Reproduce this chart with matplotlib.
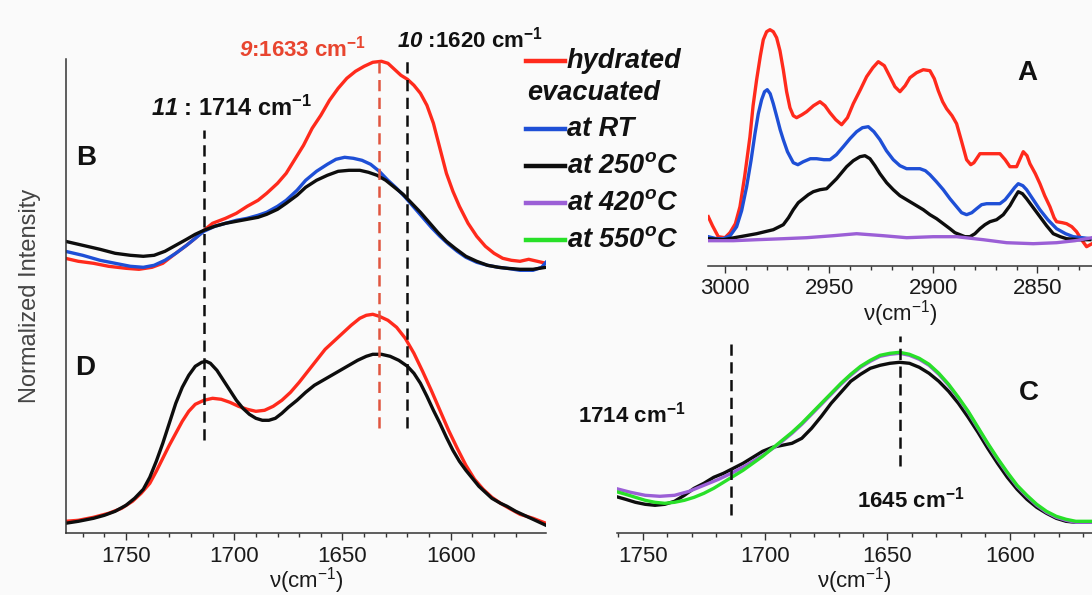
import matplotlib
matplotlib.use("Agg")
import matplotlib.pyplot as plt
from matplotlib.lines import Line2D

plt.rcParams['font.family'] = ['Liberation Sans', 'DejaVu Sans']
plt.rcParams['mathtext.fontset'] = 'custom'
plt.rcParams['mathtext.rm'] = 'Liberation Sans'
plt.rcParams['mathtext.it'] = 'Liberation Sans:italic:bold'
plt.rcParams['mathtext.bf'] = 'Liberation Sans:bold'
plt.rcParams['mathtext.sf'] = 'Liberation Sans:italic:bold'

# ---------------- data ----------------
# Panel B (upper spectra of left panel), wavenumber cm-1 / intensity a.u.
b_red_x = [1778, 1772, 1765, 1758, 1750, 1744, 1738, 1733, 1727, 1722, 1718, 1714, 1710, 1704,
           1699, 1694, 1689, 1685, 1680, 1676, 1672, 1668, 1664, 1660, 1656, 1652, 1648, 1644,
           1640, 1636, 1632, 1629, 1626, 1623, 1620, 1617, 1614, 1611, 1608, 1605, 1602, 1599,
           1596, 1592, 1588, 1584, 1580, 1576, 1572, 1568, 1564, 1560, 1556]
b_red_y = [2.75, 2.72, 2.70, 2.67, 2.65, 2.64, 2.66, 2.70, 2.80, 2.88, 2.95, 3.03, 3.10, 3.15,
           3.20, 3.27, 3.33, 3.40, 3.50, 3.60, 3.74, 3.88, 4.05, 4.18, 4.33, 4.45, 4.55, 4.62,
           4.67, 4.71, 4.72, 4.70, 4.64, 4.58, 4.54, 4.48, 4.40, 4.28, 4.10, 3.85, 3.60, 3.42,
           3.27, 3.10, 2.97, 2.87, 2.80, 2.75, 2.73, 2.72, 2.74, 2.72, 2.70]
b_blue_x = [1778, 1770, 1762, 1755, 1748, 1742, 1737, 1732, 1727, 1722, 1718, 1714, 1709, 1704,
            1699, 1694, 1689, 1685, 1680, 1676, 1671, 1667, 1662, 1657, 1653, 1649, 1645, 1641,
            1637, 1633, 1629, 1625, 1621, 1617, 1613, 1609, 1605, 1601, 1597, 1593, 1588, 1583,
            1578, 1574, 1568, 1562, 1558, 1556]
b_blue_y = [2.82, 2.78, 2.73, 2.70, 2.67, 2.66, 2.68, 2.73, 2.80, 2.88, 2.95, 3.02, 3.07, 3.10,
            3.13, 3.15, 3.18, 3.21, 3.27, 3.33, 3.43, 3.53, 3.62, 3.69, 3.74, 3.76, 3.75, 3.73,
            3.69, 3.62, 3.53, 3.45, 3.36, 3.26, 3.16, 3.06, 2.97, 2.89, 2.82, 2.76, 2.71, 2.68,
            2.66, 2.65, 2.63, 2.63, 2.66, 2.71]
b_black_x = [1778, 1770, 1762, 1755, 1748, 1742, 1737, 1732, 1727, 1722, 1718, 1714, 1709, 1704,
             1699, 1694, 1689, 1685, 1680, 1676, 1671, 1667, 1662, 1657, 1652, 1647, 1642, 1638,
             1634, 1630, 1626, 1622, 1618, 1614, 1610, 1606, 1602, 1598, 1593, 1588, 1583, 1578,
             1574, 1568, 1562, 1556]
b_black_y = [2.92, 2.88, 2.84, 2.80, 2.78, 2.77, 2.78, 2.82, 2.88, 2.94, 2.99, 3.03, 3.07, 3.10,
             3.12, 3.14, 3.16, 3.19, 3.24, 3.30, 3.38, 3.46, 3.53, 3.58, 3.62, 3.63, 3.63, 3.61,
             3.58, 3.53, 3.46, 3.39, 3.30, 3.21, 3.11, 3.01, 2.92, 2.85, 2.77, 2.72, 2.68, 2.66,
             2.65, 2.64, 2.64, 2.66]

# Panel D (lower spectra of left panel)
d_red_x = [1778, 1772, 1765, 1758, 1752, 1747, 1743, 1739, 1736, 1733, 1730, 1727, 1724, 1721,
           1718, 1714, 1710, 1706, 1702, 1698, 1694, 1690, 1686, 1682, 1678, 1674, 1670, 1666,
           1662, 1658, 1654, 1650, 1646, 1642, 1639, 1636, 1633, 1629, 1625, 1621, 1617, 1613,
           1609, 1605, 1601, 1597, 1593, 1589, 1585, 1581, 1577, 1573, 1568, 1562, 1556]
d_red_y = [0.12, 0.13, 0.16, 0.20, 0.25, 0.32, 0.40, 0.50, 0.62, 0.75, 0.88, 1.00, 1.12, 1.22,
           1.29, 1.33, 1.35, 1.34, 1.31, 1.27, 1.24, 1.22, 1.23, 1.27, 1.33, 1.41, 1.51, 1.62,
           1.73, 1.84, 1.92, 2.00, 2.08, 2.15, 2.18, 2.19, 2.17, 2.13, 2.06, 1.95, 1.80, 1.62,
           1.43, 1.23, 1.03, 0.85, 0.68, 0.54, 0.44, 0.36, 0.30, 0.25, 0.19, 0.15, 0.10]
d_black_x = [1778, 1772, 1765, 1760, 1755, 1750, 1746, 1742, 1739, 1736, 1733, 1730, 1727, 1724,
             1721, 1718, 1715, 1713, 1711, 1708, 1705, 1702, 1699, 1696, 1693, 1690, 1687, 1684,
             1681, 1678, 1675, 1671, 1667, 1663, 1659, 1655, 1651, 1647, 1643, 1639, 1636, 1632,
             1628, 1624, 1620, 1617, 1614, 1611, 1608, 1605, 1602, 1599, 1596, 1593, 1590, 1587,
             1584, 1581, 1577, 1574, 1570, 1566, 1562, 1558, 1556]
d_black_y = [0.10, 0.12, 0.15, 0.18, 0.22, 0.28, 0.35, 0.44, 0.56, 0.72, 0.90, 1.10, 1.30, 1.46,
             1.58, 1.67, 1.71, 1.72, 1.70, 1.63, 1.53, 1.43, 1.33, 1.25, 1.19, 1.15, 1.13, 1.13,
             1.15, 1.20, 1.26, 1.33, 1.41, 1.48, 1.53, 1.58, 1.63, 1.68, 1.73, 1.77, 1.79, 1.79,
             1.77, 1.73, 1.67, 1.60, 1.50, 1.37, 1.23, 1.10, 0.96, 0.83, 0.72, 0.63, 0.55, 0.47,
             0.41, 0.35, 0.30, 0.27, 0.22, 0.18, 0.14, 0.10, 0.08]

# Panel A (C-H stretching region)
a_red_x = [3008.0, 3006.0, 3003.2, 3000.0, 2997.6, 2995.0, 2992.8, 2990.5, 2988.0, 2986.5, 2984.8,
           2983.0, 2981.6, 2980.0, 2978.4, 2976.8, 2975.2, 2973.6, 2972.0, 2970.4, 2968.8, 2967.2,
           2965.6, 2963.0, 2960.8, 2957.5, 2954.4, 2952.0, 2949.6, 2946.8, 2944.0, 2941.2, 2938.4,
           2935.0, 2932.0, 2929.0, 2926.4, 2923.5, 2920.8, 2918.4, 2916.0, 2913.5, 2911.2, 2908.0,
           2904.8, 2901.6, 2899.5, 2897.6, 2895.5, 2893.6, 2891.0, 2888.8, 2886.5, 2884.0, 2882.0,
           2880.5, 2877.6, 2872.8, 2868.0, 2865.5, 2863.2, 2860.0, 2856.8, 2855.0, 2853.6, 2851.0,
           2848.8, 2846.5, 2844.0, 2842.0, 2840.8, 2838.0, 2836.0, 2833.5, 2831.2, 2828.8, 2826.4,
           2823.8]
a_red_y = [0.49, 0.40, 0.29, 0.28, 0.33, 0.42, 0.59, 0.90, 1.29, 1.60, 1.86,
           2.10, 2.26, 2.34, 2.36, 2.34, 2.28, 2.15, 1.96, 1.74, 1.58, 1.50,
           1.48, 1.51, 1.54, 1.60, 1.64, 1.60, 1.53, 1.46, 1.41, 1.48, 1.62,
           1.76, 1.89, 1.98, 2.04, 2.00, 1.89, 1.79, 1.74, 1.80, 1.88, 1.93,
           1.96, 1.95, 1.87, 1.75, 1.64, 1.57, 1.50, 1.42, 1.25, 1.06, 1.01,
           1.03, 1.12, 1.12, 1.12, 1.06, 0.99, 0.99, 1.14, 1.10, 1.02, 0.92,
           0.82, 0.70, 0.59, 0.48, 0.44, 0.43, 0.42, 0.39, 0.34, 0.26, 0.19,
           0.22]
a_blue_x = [3008.0, 3004.0, 3000.8, 2997.5, 2994.4, 2992.0, 2989.6, 2987.5, 2985.6, 2984.0, 2982.4,
            2981.0, 2979.7, 2978.3, 2976.8, 2975.0, 2973.5, 2972.0, 2970.0, 2967.2, 2965.0, 2962.4,
            2959.0, 2956.0, 2952.5, 2949.6, 2946.5, 2943.2, 2940.0, 2936.8, 2934.0, 2931.2, 2928.5,
            2925.6, 2922.5, 2919.2, 2916.0, 2912.8, 2909.5, 2906.4, 2903.8, 2901.6, 2898.5, 2895.2,
            2892.0, 2888.8, 2886.4, 2884.0, 2881.5, 2879.2, 2876.8, 2874.4, 2871.0, 2868.0, 2865.5,
            2863.2, 2861.0, 2859.2, 2857.0, 2855.2, 2852.0, 2848.8, 2845.0, 2840.8, 2836.5, 2832.8,
            2828.5, 2824.8]
a_blue_y = [0.29, 0.27, 0.27, 0.30, 0.39, 0.55, 0.79, 1.05, 1.32, 1.52, 1.66,
            1.74, 1.76, 1.72, 1.62, 1.48, 1.36, 1.26, 1.14, 1.03, 1.01, 1.04,
            1.07, 1.07, 1.06, 1.06, 1.11, 1.19, 1.27, 1.34, 1.38, 1.39, 1.34,
            1.26, 1.15, 1.06, 1.00, 0.97, 0.97, 0.97, 0.95, 0.91, 0.84, 0.76,
            0.67, 0.59, 0.53, 0.51, 0.53, 0.57, 0.61, 0.62, 0.62, 0.62, 0.66,
            0.72, 0.78, 0.82, 0.80, 0.76, 0.66, 0.56, 0.46, 0.37, 0.32, 0.29,
            0.28, 0.27]
a_black_x = [3008.0, 3000.8, 2992.8, 2984.8, 2976.8, 2972.0, 2969.5, 2967.2, 2964.8, 2962.4, 2960.0,
             2957.6, 2954.4, 2951.2, 2948.8, 2946.4, 2944.0, 2941.6, 2938.4, 2935.2, 2932.8, 2930.4,
             2928.0, 2925.6, 2922.4, 2919.2, 2916.0, 2912.8, 2908.8, 2904.8, 2901.6, 2898.4, 2895.2,
             2892.0, 2889.6, 2887.2, 2884.8, 2882.4, 2880.0, 2877.6, 2875.2, 2872.8, 2869.6, 2866.4,
             2863.2, 2861.0, 2859.2, 2857.2, 2855.2, 2852.0, 2848.8, 2845.6, 2842.4, 2839.0, 2836.0,
             2830.0, 2824.8]
a_black_y = [0.27, 0.26, 0.29, 0.32, 0.36, 0.41, 0.48, 0.56, 0.63, 0.67, 0.71,
             0.74, 0.76, 0.77, 0.82, 0.87, 0.93, 0.99, 1.05, 1.09, 1.10, 1.07,
             1.00, 0.92, 0.83, 0.76, 0.70, 0.66, 0.61, 0.56, 0.51, 0.47, 0.42,
             0.37, 0.33, 0.31, 0.29, 0.29, 0.32, 0.37, 0.41, 0.44, 0.46, 0.51,
             0.60, 0.68, 0.74, 0.72, 0.67, 0.58, 0.49, 0.40, 0.32, 0.29, 0.27,
             0.26, 0.26]
a_purple_x = [3008.0, 2996.0, 2984.8, 2972.0, 2960.8, 2948.0, 2936.8, 2924.0, 2912.8, 2900.0,
              2888.8, 2876.0, 2864.8, 2852.0, 2840.8, 2832.0, 2823.8]
a_purple_y = [0.25, 0.25, 0.26, 0.27, 0.28, 0.30, 0.32, 0.30, 0.28, 0.29,
              0.29, 0.26, 0.23, 0.22, 0.23, 0.25, 0.28]

# Panel C (samples evacuated at high temperature)
c_black_x = [1761.3, 1757, 1753, 1749, 1745, 1741, 1737, 1733, 1729, 1725, 1721, 1717, 1713, 1709,
             1705, 1701, 1697, 1693, 1689, 1685, 1681, 1677, 1673, 1669, 1665, 1661, 1657, 1653,
             1649, 1645, 1641, 1637, 1633, 1629, 1625, 1621, 1617, 1613, 1609, 1605, 1601, 1597,
             1593, 1589, 1585, 1581, 1577, 1573, 1569, 1566.4]
c_black_y = [0.37, 0.34, 0.31, 0.29, 0.28, 0.29, 0.32, 0.38, 0.45, 0.50, 0.56, 0.60, 0.65, 0.70,
             0.76, 0.82, 0.86, 0.88, 0.90, 0.95, 1.05, 1.17, 1.30, 1.41, 1.52, 1.59, 1.65, 1.68,
             1.70, 1.71, 1.70, 1.66, 1.60, 1.52, 1.42, 1.30, 1.16, 1.01, 0.85, 0.70, 0.56, 0.44,
             0.34, 0.26, 0.20, 0.15, 0.12, 0.11, 0.11, 0.11]
c_purple_x = [1761.3, 1755, 1749, 1743, 1737, 1731, 1725, 1719, 1713, 1707, 1701, 1695, 1689,
              1685, 1681, 1677, 1673, 1669, 1665, 1661, 1657, 1653, 1649, 1645, 1641, 1637, 1633,
              1629, 1625, 1621, 1617, 1613, 1609, 1605, 1601, 1597, 1593, 1589, 1585, 1581, 1577,
              1573, 1569, 1566.4]
c_purple_y = [0.45, 0.41, 0.38, 0.37, 0.38, 0.42, 0.48, 0.54, 0.61, 0.69, 0.78, 0.88, 1.00,
              1.09, 1.19, 1.29, 1.39, 1.49, 1.58, 1.66, 1.72, 1.77, 1.79, 1.80, 1.78, 1.74, 1.68,
              1.59, 1.48, 1.35, 1.21, 1.05, 0.89, 0.74, 0.60, 0.47, 0.37, 0.28, 0.21, 0.16, 0.13,
              0.11, 0.11, 0.11]
c_green_x = [1761.3, 1757, 1753, 1749, 1745, 1741, 1737, 1733, 1729, 1725, 1721, 1717, 1713, 1709,
             1705, 1701, 1697, 1693, 1689, 1685, 1681, 1677, 1673, 1669, 1665, 1661, 1657, 1653,
             1649, 1645, 1641, 1637, 1633, 1629, 1625, 1621, 1617, 1613, 1609, 1605, 1601, 1597,
             1593, 1589, 1585, 1581, 1577, 1573, 1569, 1566.4]
c_green_y = [0.42, 0.39, 0.36, 0.33, 0.31, 0.30, 0.31, 0.33, 0.36, 0.40, 0.45, 0.51, 0.57, 0.63,
             0.70, 0.77, 0.85, 0.93, 1.01, 1.10, 1.20, 1.30, 1.40, 1.50, 1.59, 1.67, 1.73, 1.78,
             1.80, 1.81, 1.79, 1.75, 1.69, 1.60, 1.49, 1.36, 1.22, 1.06, 0.90, 0.75, 0.61, 0.48,
             0.38, 0.29, 0.22, 0.17, 0.14, 0.12, 0.12, 0.12]

# marker lines: (position, ymin, ymax)
left_marks = [(1714, 0.93, 4.03, 'black'), (1633, 1.05, 4.76, 'red'), (1620, 1.05, 4.75, 'black')]
c_marks = [(1714, 0.18, 1.93), (1645, 0.67, 1.97)]

legend_labels = ['hydrated', 'evacuated', 'at RT', 'at 250$^{o}$C', 'at 420$^{o}$C', 'at 550$^{o}$C']

RED = '#ff2a1c'
BLUE = '#1e4fd6'
BLACK = '#0d0d0d'
PURPLE = '#9b5fd6'
GREEN = '#28e028'
DRED = '#e0553f'
BG = '#fafafa'
AX = '#333333'

W, H = 1092, 595
fig = plt.figure(figsize=(W / 100, H / 100), dpi=100, facecolor=BG)


def frac(l, t, r, b):
    return [l / W, 1 - b / H, (r - l) / W, (b - t) / H]


def style_axis(ax, left_spine=False):
    ax.set_facecolor('none')
    for s in ['top', 'right']:
        ax.spines[s].set_visible(False)
    ax.spines['left'].set_visible(left_spine)
    ax.spines['bottom'].set_color(AX)
    ax.spines['left'].set_color(AX)
    ax.spines['bottom'].set_linewidth(1.1)
    ax.spines['left'].set_linewidth(1.1)
    ax.set_yticks([])
    ax.tick_params(axis='x', which='major', direction='out', length=5, width=1.0,
                   color=AX, labelsize=16, labelcolor='#1a1a1a', pad=4)
    ax.tick_params(axis='x', which='minor', direction='out', length=3, width=1.0, color=AX)


LW = 2.4
dash = (0, (4.5, 2.6))

# ---------------- left panel B / D ----------------
axL = fig.add_axes(frac(66, 59, 546, 533.3))
style_axis(axL, left_spine=True)
axL.plot(b_red_x, b_red_y, color=RED, lw=LW)
axL.plot(b_blue_x, b_blue_y, color=BLUE, lw=LW)
axL.plot(b_black_x, b_black_y, color=BLACK, lw=LW)
axL.plot(d_red_x, d_red_y, color=RED, lw=LW)
axL.plot(d_black_x, d_black_y, color=BLACK, lw=LW)
for pos, y0, y1, c in left_marks:
    axL.plot([pos, pos], [y0, y1], color=(DRED if c == 'red' else BLACK), lw=1.8,
             linestyle=dash, clip_on=False)
axL.set_xlim(1777.7, 1556)
axL.set_ylim(0, 4.743)
axL.set_xticks([1750, 1700, 1650, 1600])
axL.set_xticks(range(1570, 1780, 10), minor=True)
axL.set_xlabel('ν(cm$^{-1}$)', fontsize=16, color='#1a1a1a', labelpad=-1)
axL.set_ylabel('Normalized Intensity', fontsize=17, color='#444444', labelpad=18)

# ---------------- panel A ----------------
axA = fig.add_axes(frac(708.3, 15, 1092, 265.7))
style_axis(axA)
axA.plot(a_red_x, a_red_y, color=RED, lw=LW)
axA.plot(a_blue_x, a_blue_y, color=BLUE, lw=LW)
axA.plot(a_black_x, a_black_y, color=BLACK, lw=LW)
axA.plot(a_purple_x, a_purple_y, color=PURPLE, lw=LW)
axA.set_xlim(3008, 2823.8)
axA.set_ylim(0, 2.507)
axA.set_xticks([3000, 2950, 2900, 2850])
axA.set_xticks(range(2830, 3010, 10), minor=True)
axA.set_xlabel('ν(cm$^{-1}$)', fontsize=16, color='#1a1a1a', labelpad=-1)

# ---------------- panel C ----------------
axC = fig.add_axes(frac(617.3, 320, 1092, 533.3))
style_axis(axC)
axC.plot(c_black_x, c_black_y, color=BLACK, lw=LW)
axC.plot(c_purple_x, c_purple_y, color=PURPLE, lw=LW)
axC.plot(c_green_x, c_green_y, color=GREEN, lw=LW)
for pos, y0, y1 in c_marks:
    axC.plot([pos, pos], [y0, y1], color=BLACK, lw=1.8, linestyle=dash, clip_on=False)
axC.set_xlim(1760.4, 1566.4)
axC.set_ylim(0, 2.133)
axC.set_xticks([1750, 1700, 1650, 1600])
axC.set_xticks(range(1570, 1770, 10), minor=True)
axC.set_xlabel('ν(cm$^{-1}$)', fontsize=16, color='#1a1a1a', labelpad=-1)


# ---------------- annotations ----------------
def ftext(x, y, s, **kw):
    fig.text(x / W, 1 - y / H, s, ha='left', va='center', **kw)


ftext(239, 49, r'$\mathsf{9}$:1633 cm$^{\mathbf{-1}}$', fontsize=16, fontweight='bold', color='#e8452f')
ftext(397, 40, r'$\mathsf{10}$ :1620 cm$^{\mathbf{-1}}$', fontsize=16, fontweight='bold', color='#111111')
ftext(151, 108, r'$\mathsf{11}$ : 1714 cm$^{\mathbf{-1}}$', fontsize=17, fontweight='bold', color='#111111')
ftext(76, 158, 'B', fontsize=20, fontweight='bold', color='#111111')
ftext(75, 368, 'D', fontsize=20, fontweight='bold', color='#111111')
ftext(1017, 73, 'A', fontsize=20, fontweight='bold', color='#111111')
ftext(1019, 393, 'C', fontsize=20, fontweight='bold', color='#111111')
ftext(578, 415, r'1714 cm$^{\mathbf{-1}}$', fontsize=16, fontweight='bold', color='#111111')
ftext(857, 500, r'1645 cm$^{\mathbf{-1}}$', fontsize=16, fontweight='bold', color='#111111')

# ---------------- legend ----------------
leg_colors = [RED, None, BLUE, BLACK, PURPLE, GREEN]
leg_y = [61, 93, 129, 166, 203, 240]
for lab, c, y in zip(legend_labels, leg_colors, leg_y):
    if c is None:
        ftext(527, y, lab, fontsize=19.5, fontweight='bold', fontstyle='italic', color='#111111')
    else:
        fig.add_artist(Line2D([526 / W, 565 / W], [1 - y / H, 1 - y / H], color=c, lw=3.2,
                              transform=fig.transFigure))
        ftext(567, y, lab, fontsize=19.5, fontweight='bold', fontstyle='italic', color='#111111')

fig.savefig('out.png', dpi=100, facecolor=BG)
